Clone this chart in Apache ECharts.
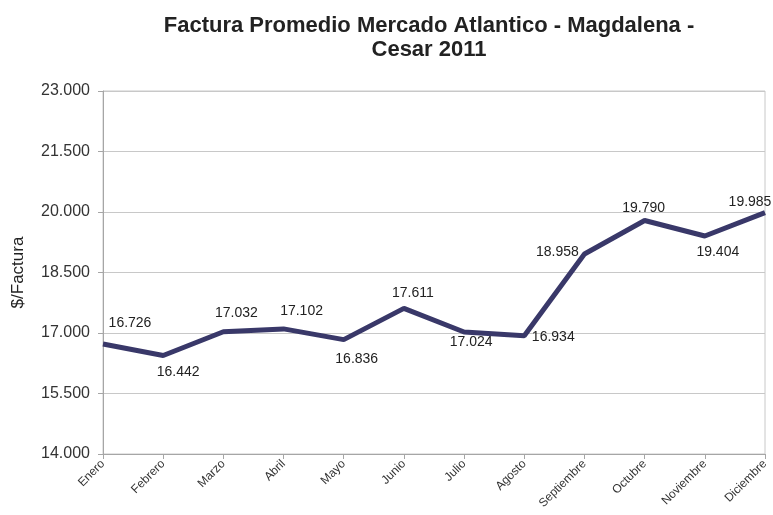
<!DOCTYPE html>
<html><head><meta charset="utf-8">
<script src="https://cdn.jsdelivr.net/npm/echarts@6/dist/echarts.min.js"></script>
<style>html,body{margin:0;padding:0;background:#fff}#c{width:773px;height:515px}</style>
</head><body><div id="c"></div>
<script>
const categories = ['Enero','Febrero','Marzo','Abril','Mayo','Junio','Julio','Agosto','Septiembre','Octubre','Noviembre','Diciembre'];
const values = [16726,16442,17032,17102,16836,17611,17024,16934,18958,19790,19404,19985];
const labelOffsets = [[27,-21],[15,17],[13,-19],[18,-18],[13,20],[9,-15],[7,10],[29,1],[-27,-2],[-1,-12],[13,16],[-15,-10]];
const yMin = 14000, yMax = 23000, yStep = 1500;

function fmt(v){ return String(v).replace(/\B(?=(\d{3})+(?!\d))/g,'.'); }

const chart = echarts.init(document.getElementById('c'));
chart.setOption({
  animation:false,
  backgroundColor:'#fff',
  title:{
    text:'Factura Promedio Mercado Atlantico - Magdalena -\nCesar 2011',
    left:424, top:9, textAlign:'center',
    textStyle:{fontFamily:'Liberation Sans',fontWeight:'bold',fontSize:22,color:'#222',lineHeight:24}
  },
  grid:{left:103,right:8,top:91,bottom:61,show:true,borderColor:'#c8c8c8',borderWidth:1},
  xAxis:{
    type:'category', data:categories, boundaryGap:false,
    axisLine:{lineStyle:{color:'#a6a6a6'}},
    axisTick:{show:true,alignWithLabel:true,length:5,lineStyle:{color:'#a6a6a6'}},
    axisLabel:{rotate:45,fontFamily:'Liberation Sans',fontSize:12,color:'#333',margin:8,interval:0},
    splitLine:{show:false}
  },
  yAxis:{
    type:'value', min:yMin, max:yMax, interval:yStep,
    name:'$/Factura', nameLocation:'middle', nameGap:76, nameRotate:90,
    nameTextStyle:{fontFamily:'Liberation Sans',fontSize:17,color:'#222'},
    axisLine:{show:true,lineStyle:{color:'#a6a6a6'}},
    axisTick:{show:true,length:5,lineStyle:{color:'#a6a6a6'}},
    axisLabel:{fontFamily:'Liberation Sans',fontSize:16,color:'#333',margin:13,formatter:v=>fmt(v)},
    splitLine:{lineStyle:{color:'#c8c8c8',width:1}}
  },
  series:[{
    type:'line',
    data:values.map((v,i)=>({value:v,label:{offset:labelOffsets[i]}})),
    symbol:'circle', symbolSize:0.1, showSymbol:true,
    lineStyle:{color:'#393869',width:5},
    itemStyle:{color:'#393869'},
    label:{show:true,position:'inside',align:'center',verticalAlign:'middle',
      fontFamily:'Liberation Sans',fontSize:14,color:'#222',formatter:p=>fmt(p.value)}
  }]
});
</script></body></html>
